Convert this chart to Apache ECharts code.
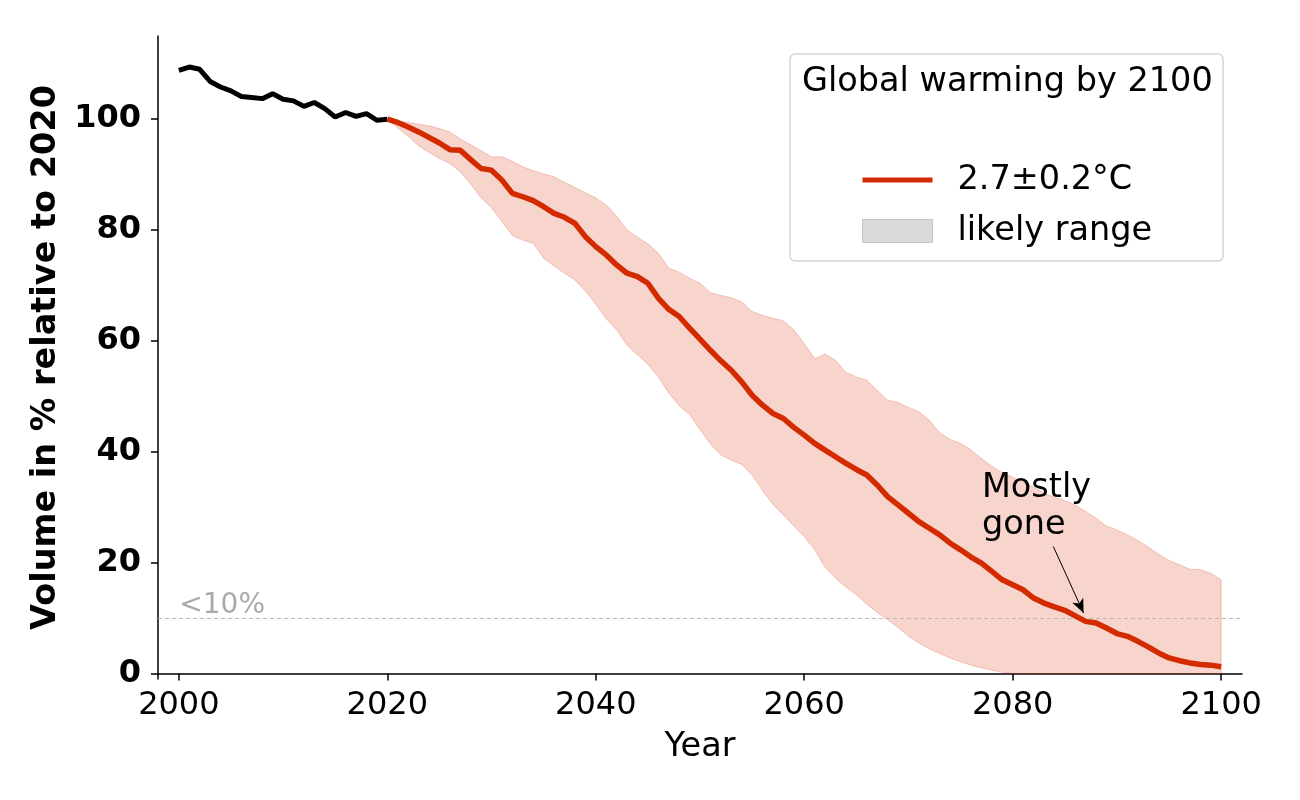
<!DOCTYPE html>
<html lang="en">
<head>
  <meta http-equiv="Content-Type" content="text/html; charset=UTF-8">
  <title>Volume relative to 2020</title>
  <style>
    html, body { margin: 0; padding: 0; background: #fff; }
  </style>
</head>
<body>
  <div id="chart" style="width: 1300px; height: 800px;"></div>
  <script src="https://cdn.jsdelivr.net/npm/echarts@6/dist/echarts.min.js"></script>
  <script>
    // observed, 2000..2020
    const pastYears = [2000, 2001, 2002, 2003, 2004, 2005, 2006, 2007, 2008, 2009, 2010,
      2011, 2012, 2013, 2014, 2015, 2016, 2017, 2018, 2019, 2020];
    const pastVolume = [108.8, 109.4, 109.0, 106.8, 105.8, 105.1, 104.1, 103.9, 103.7, 104.6, 103.6,
      103.3, 102.3, 103.0, 101.9, 100.4, 101.2, 100.5, 101.0, 99.8, 100.0];

    // projection, 2020..2100
    const futureYears = [];
    for (let y = 2020; y <= 2100; y++) futureYears.push(y);
    const median = [
      100.0, 99.4, 98.6, 97.7, 96.7, 95.7, 94.5, 94.4, 92.7, 91.1,
      90.8, 89.0, 86.6, 86.0, 85.3, 84.2, 83.0, 82.3, 81.2, 78.8,
      77.0, 75.5, 73.7, 72.2, 71.6, 70.4, 67.7, 65.7, 64.4, 62.3,
      60.3, 58.3, 56.4, 54.7, 52.6, 50.2, 48.4, 46.9, 46.0, 44.4,
      43.0, 41.5, 40.3, 39.1, 37.9, 36.8, 35.8, 34.0, 31.9, 30.4,
      28.9, 27.4, 26.2, 25.0, 23.5, 22.3, 21.0, 19.9, 18.4, 16.9,
      16.0, 15.1, 13.6, 12.7, 12.0, 11.4, 10.4, 9.4, 9.1, 8.2,
      7.2, 6.7, 5.8, 4.8, 3.7, 2.8, 2.3, 1.9, 1.6, 1.5,
      1.2
    ];
    const upper = [
      100.0, 99.7, 99.4, 99.1, 98.8, 98.3, 97.7, 96.4, 95.4, 94.3,
      93.2, 93.2, 92.4, 91.4, 90.7, 90.1, 89.6, 88.6, 87.7, 86.7,
      85.8, 84.5, 82.5, 80.0, 78.7, 77.5, 75.8, 73.1, 72.4, 71.3,
      70.4, 68.7, 68.2, 67.8, 67.0, 65.3, 64.6, 64.1, 63.6, 62.0,
      59.5, 56.8, 57.6, 56.5, 54.3, 53.5, 52.9, 51.1, 49.3, 48.9,
      48.0, 47.2, 45.7, 43.4, 42.2, 41.5, 40.3, 38.8, 37.4, 36.2,
      35.4, 34.6, 33.6, 32.5, 31.8, 31.2, 30.4, 29.2, 28.0, 26.6,
      25.9, 25.0, 24.0, 22.8, 21.5, 20.4, 19.6, 18.8, 18.7, 18.1,
      16.9
    ];
    const lower = [
      100.0, 98.4, 96.9, 95.2, 94.0, 92.9, 92.0, 90.5, 88.3, 85.8,
      84.0, 81.5, 79.0, 78.2, 77.6, 74.9, 73.5, 72.2, 71.0, 69.0,
      66.6, 64.0, 62.0, 59.2, 57.5, 55.8, 53.5, 50.6, 48.3, 46.7,
      44.0, 41.4, 39.4, 38.5, 37.7, 35.8, 33.0, 30.5, 28.6, 26.6,
      24.7, 22.3, 19.2, 17.2, 15.6, 14.2, 12.5, 11.0, 9.7, 8.3,
      6.7, 5.5, 4.4, 3.6, 2.8, 2.1, 1.5, 1.0, 0.6, 0.2,
      0.0, 0.0, 0.0, 0.0, 0.0, 0.0, 0.0, 0.0, 0.0, 0.0,
      0.0, 0.0, 0.0, 0.0, 0.0, 0.0, 0.0, 0.0, 0.0, 0.0,
      0.0
    ];

    const xTicks = [2000, 2020, 2040, 2060, 2080, 2100];
    const yTicks = [0, 20, 40, 60, 80, 100];
    const threshold = 10;

    const FONT = 'DejaVu Sans';
    const RED = '#d42a00';
    const BAND = 'rgba(214,42,0,0.2)';
    const BAND_EDGE = 'rgba(214,42,0,0.22)';

    const pastData = pastYears.map((y, i) => [y, pastVolume[i]]);
    const medianData = futureYears.map((y, i) => [y, median[i]]);
    const bandData = futureYears.map((y, i) => [y, lower[i], upper[i]]);

    // one polygon: upper edge left->right, lower edge right->left
    function renderBand(params, api) {
      if (params.dataIndex !== 0) return null;
      const pts = [];
      for (let i = 0; i < futureYears.length; i++) pts.push(api.coord([futureYears[i], upper[i]]));
      for (let i = futureYears.length - 1; i >= 0; i--) pts.push(api.coord([futureYears[i], lower[i]]));
      return {
        type: 'polygon',
        shape: { points: pts },
        style: { fill: BAND, stroke: BAND_EDGE, lineWidth: 1 }
      };
    }

    // legend line icon: 70x23 box with a 5px bar in the middle
    const lineIcon = 'path://M0,0L0,0.01Z M0,9L70,9L70,14L0,14Z M70,23L70,22.99Z';

    const myChart = echarts.init(document.getElementById('chart'));
    const option = {
      animation: false,
      backgroundColor: '#fff',
      textStyle: { fontFamily: FONT },
      grid: { left: 158, right: 58, top: 36, bottom: 121, containLabel: false },
      title: {
        text: 'Global warming by 2100',
        left: 802,
        top: 65,
        padding: 0,
        textStyle: { fontFamily: FONT, fontSize: 33.5, fontWeight: 'normal', color: '#000' }
      },
      graphic: [{
        type: 'rect',
        z: 1,
        shape: { x: 790, y: 54, width: 433, height: 207, r: 5 },
        style: { fill: '#fff', stroke: '#d5d5d5', lineWidth: 1.5 }
      }],
      legend: {
        orient: 'vertical',
        left: 862,
        top: 163,
        padding: 0,
        itemWidth: 70,
        itemHeight: 23,
        itemGap: 17,
        textStyle: { fontFamily: FONT, fontSize: 33.5, color: '#000', padding: [0, 0, 0, 20], lineHeight: 34 },
        data: [
          { name: '2.7±0.2°C', icon: lineIcon, itemStyle: { color: RED, borderWidth: 0 } },
          { name: 'likely range', icon: 'rect', itemStyle: { color: '#d9d9d9', borderColor: '#c6c6c6', borderWidth: 1 } }
        ]
      },
      xAxis: {
        type: 'value',
        min: 1998,
        max: 2102,
        name: 'Year',
        nameLocation: 'middle',
        nameGap: 51,
        nameTextStyle: { fontFamily: FONT, fontSize: 33.5, color: '#000' },
        axisLine: { show: true, lineStyle: { color: '#000', width: 1.5 } },
        axisTick: { show: true, length: 7, customValues: xTicks, lineStyle: { color: '#000', width: 1.5 } },
        axisLabel: {
          customValues: xTicks, formatter: (v) => String(v),
          fontFamily: FONT, fontSize: 32, color: '#000', margin: 11
        },
        splitLine: { show: false }
      },
      yAxis: {
        type: 'value',
        min: -1,
        max: 115,
        name: 'Volume in % relative to 2020',
        nameLocation: 'middle',
        nameGap: 83,
        nameTextStyle: { fontFamily: FONT, fontSize: 33.5, fontWeight: 'bold', color: '#000' },
        axisLine: { show: true, lineStyle: { color: '#000', width: 1.5 } },
        axisTick: { show: true, length: 7, customValues: yTicks, lineStyle: { color: '#000', width: 1.5 } },
        axisLabel: {
          customValues: yTicks, formatter: (v) => String(v),
          fontFamily: FONT, fontSize: 32, fontWeight: 'bold', color: '#000', margin: 17
        },
        splitLine: { show: false }
      },
      series: [
        {
          name: 'likely range',
          type: 'custom',
          data: bandData,
          encode: { x: 0, y: [1, 2] },
          renderItem: renderBand,
          itemStyle: { color: '#d9d9d9' },
          clip: true,
          z: 2
        },
        {
          name: 'observed',
          type: 'line',
          symbol: 'none',
          data: pastData,
          lineStyle: { color: '#000', width: 5 },
          z: 4
        },
        {
          name: '2.7±0.2°C',
          type: 'line',
          symbol: 'none',
          data: medianData,
          lineStyle: { color: RED, width: 5.5 },
          itemStyle: { color: RED },
          z: 5,
          markLine: {
            silent: true,
            symbol: 'none',
            animation: false,
            data: [
              {
                yAxis: threshold,
                lineStyle: { color: '#b8b8b8', type: [4, 3], width: 1 },
                label: { show: false }
              },
              [
                { coord: [2083.9, 22.9], symbol: 'none' },
                { coord: [2086.8, 10.9], symbol: 'arrow', symbolSize: [9, 14] }
              ]
            ],
            lineStyle: { color: '#000', width: 1, type: 'solid' },
            label: { show: false }
          },
          markPoint: {
            silent: true,
            symbol: 'circle',
            symbolSize: 1,
            itemStyle: { color: 'rgba(0,0,0,0)' },
            data: [
              {
                coord: [2000, threshold],
                label: {
                  show: true, formatter: '<10%', position: 'right', distance: 0, offset: [0, -12],
                  fontFamily: FONT, fontSize: 28, color: '#aaaaaa'
                }
              },
              {
                coord: [2077.0, 30.0],
                label: {
                  show: true, formatter: 'Mostly\ngone', position: 'right', distance: 0, align: 'left',
                  fontFamily: FONT, fontSize: 33.5, lineHeight: 37, color: '#000'
                }
              }
            ]
          }
        }
      ]
    };
    myChart.setOption(option);
  </script>
</body>
</html>
